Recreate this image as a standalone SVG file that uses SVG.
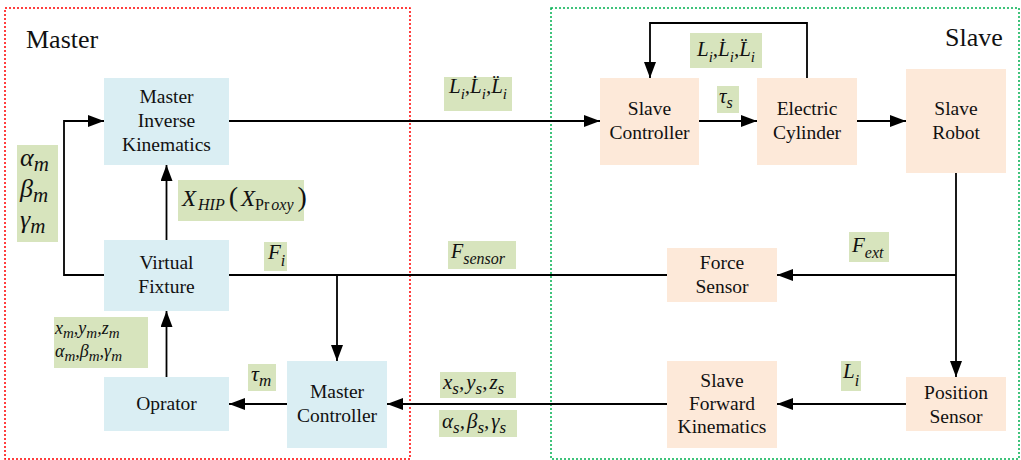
<svg xmlns="http://www.w3.org/2000/svg" width="1021" height="460" viewBox="0 0 1021 460">
<style>
.nb{fill:#DAEEF3}
.ns{fill:#FDE9D9}
.lb{fill:#D7E4BD}
.t{font-family:'Liberation Serif','Times New Roman',Times,'DejaVu Serif',serif;font-size:19.5px;fill:#111;text-anchor:middle}
.ti{font-family:'Liberation Serif','Times New Roman',Times,'DejaVu Serif',serif;font-size:26px;fill:#111}
.m{font-family:'Liberation Serif','Times New Roman',Times,'DejaVu Serif',serif;font-style:italic;fill:#111}
.c{fill:none;stroke:#000;stroke-width:1.8}
</style>
<defs>
<marker id="ah" viewBox="0 0 16 12" refX="16" refY="6" markerWidth="16" markerHeight="12" markerUnits="userSpaceOnUse" orient="auto">
<path d="M0,0 L16,6 L0,12 Z" fill="#000"/>
</marker>
</defs>
<rect width="1021" height="460" fill="#fff"/>
<g id="regions">
<rect x="5" y="8" width="405" height="451" fill="none" stroke="#FF0000" stroke-width="1.5" stroke-dasharray="2,2"/>
<rect x="551" y="8" width="468" height="451" fill="none" stroke="#00B050" stroke-width="1.5" stroke-dasharray="2,2"/>
<text class="ti" x="26" y="48">Master</text>
<text class="ti" x="945" y="46">Slave</text>
</g>
<g id="connectors">
<path class="c" d="M229,121 H600" marker-end="url(#ah)"/>
<path class="c" d="M699,121 H757" marker-end="url(#ah)"/>
<path class="c" d="M857,121 H906" marker-end="url(#ah)"/>
<path class="c" d="M807,78 V23 H650 V78" marker-end="url(#ah)"/>
<path class="c" d="M956,173 V377" marker-end="url(#ah)"/>
<path class="c" d="M956,275 H777" marker-end="url(#ah)"/>
<path class="c" d="M667,275 H229"/>
<path class="c" d="M337,275 V361" marker-end="url(#ah)"/>
<path class="c" d="M104,275 H64 V121 H104" marker-end="url(#ah)"/>
<path class="c" d="M166.5,240 V165" marker-end="url(#ah)"/>
<path class="c" d="M166.5,377 V311" marker-end="url(#ah)"/>
<path class="c" d="M287,404 H229" marker-end="url(#ah)"/>
<path class="c" d="M667,404 H387" marker-end="url(#ah)"/>
<path class="c" d="M906,404 H777" marker-end="url(#ah)"/>
</g>
<g id="master-inverse-kinematics">
<rect class="nb" x="104" y="78" width="125" height="87"/>
<text class="t" x="166.5" y="103">Master</text>
<text class="t" x="166.5" y="127">Inverse</text>
<text class="t" x="166.5" y="151">Kinematics</text>
</g>
<g id="virtual-fixture">
<rect class="nb" x="104" y="240" width="125" height="71"/>
<text class="t" x="166.5" y="269">Virtual</text>
<text class="t" x="166.5" y="293">Fixture</text>
</g>
<g id="oprator">
<rect class="nb" x="104" y="377" width="125" height="54"/>
<text class="t" x="166.5" y="410">Oprator</text>
</g>
<g id="master-controller">
<rect class="nb" x="287" y="361" width="100" height="87"/>
<text class="t" x="337" y="398">Master</text>
<text class="t" x="337" y="422">Controller</text>
</g>
<g id="slave-controller">
<rect class="ns" x="600" y="78" width="99" height="87"/>
<text class="t" x="649.5" y="115">Slave</text>
<text class="t" x="649.5" y="139">Controller</text>
</g>
<g id="electric-cylinder">
<rect class="ns" x="757" y="78" width="100" height="87"/>
<text class="t" x="807" y="115">Electric</text>
<text class="t" x="807" y="139">Cylinder</text>
</g>
<g id="slave-robot">
<rect class="ns" x="906" y="69" width="100" height="104"/>
<text class="t" x="956" y="115">Slave</text>
<text class="t" x="956" y="139">Robot</text>
</g>
<g id="force-sensor">
<rect class="ns" x="667" y="248" width="110" height="54"/>
<text class="t" x="722" y="269">Force</text>
<text class="t" x="722" y="293">Sensor</text>
</g>
<g id="slave-forward-kinematics">
<rect class="ns" x="667" y="361" width="110" height="87"/>
<text class="t" x="722" y="387">Slave</text>
<text class="t" x="722" y="410">Forward</text>
<text class="t" x="722" y="433">Kinematics</text>
</g>
<g id="position-sensor">
<rect class="ns" x="906" y="377" width="100" height="54"/>
<text class="t" x="956" y="399">Position</text>
<text class="t" x="956" y="423">Sensor</text>
</g>
<g id="labels">
<rect class="lb" x="17" y="145" width="41" height="97"/>
<text class="m" x="20" y="166" font-size="26">α<tspan font-size="21" dy="5">m</tspan></text>
<text class="m" x="20" y="197" font-size="26">β<tspan font-size="21" dy="5">m</tspan></text>
<text class="m" x="20" y="228" font-size="26">γ<tspan font-size="21" dy="5">m</tspan></text>

<rect class="lb" x="178" y="180" width="126" height="41"/>
<text class="m" x="182" y="206" font-size="23">X<tspan font-size="16" dy="4" dx="2">HIP</tspan><tspan font-size="28" font-style="normal" dy="-4" dx="4">(</tspan><tspan dx="3">X</tspan><tspan font-size="16" dy="4" font-style="normal">Pr</tspan><tspan font-size="16" dx="2">oxy</tspan><tspan font-size="28" font-style="normal" dy="-4" dx="4">)</tspan></text>

<rect class="lb" x="264" y="242" width="23" height="29"/>
<text class="m" x="268" y="259" font-size="21">F<tspan font-size="16" dy="7">i</tspan></text>

<rect class="lb" x="54" y="317" width="94" height="51"/>
<text class="m" x="55" y="334" font-size="18">x<tspan font-size="15" dy="4">m</tspan><tspan dy="-4">,</tspan>y<tspan font-size="15" dy="4">m</tspan><tspan dy="-4">,</tspan>z<tspan font-size="15" dy="4">m</tspan></text>
<text class="m" x="55" y="357" font-size="18">α<tspan font-size="15" dy="4">m</tspan><tspan dy="-4">,</tspan>β<tspan font-size="15" dy="4">m</tspan><tspan dy="-4">,</tspan>γ<tspan font-size="15" dy="4">m</tspan></text>

<rect class="lb" x="248" y="364" width="28" height="27"/>
<text class="m" x="251" y="381" font-size="22">τ<tspan font-size="17" dy="5">m</tspan></text>

<rect class="lb" x="444" y="77" width="68" height="34"/>
<text class="m" x="478" y="93" font-size="21" text-anchor="middle">L<tspan font-size="15" dy="6">i</tspan><tspan dy="-6">,</tspan>L̇<tspan font-size="15" dy="6">i</tspan><tspan dy="-6">,</tspan>L̈<tspan font-size="15" dy="6">i</tspan></text>

<rect class="lb" x="690" y="33" width="72" height="35"/>
<text class="m" x="726" y="56" font-size="21" text-anchor="middle">L<tspan font-size="15" dy="6">i</tspan><tspan dy="-6">,</tspan>L̇<tspan font-size="15" dy="6">i</tspan><tspan dy="-6">,</tspan>L̈<tspan font-size="15" dy="6">i</tspan></text>

<rect class="lb" x="717" y="86" width="22" height="27"/>
<text class="m" x="719" y="103" font-size="21">τ<tspan font-size="16" dy="5">s</tspan></text>

<rect class="lb" x="448" y="241" width="68" height="28"/>
<text class="m" x="451" y="258" font-size="20">F<tspan font-size="16" dy="6">sensor</tspan></text>

<rect class="lb" x="440" y="372" width="76" height="26"/>
<text class="m" x="443" y="389" font-size="21">x<tspan font-size="17" dy="5">s</tspan><tspan dy="-5">,</tspan><tspan dx="2">y</tspan><tspan font-size="17" dy="5">s</tspan><tspan dy="-5">,</tspan><tspan dx="2">z</tspan><tspan font-size="17" dy="5">s</tspan></text>

<rect class="lb" x="439" y="410" width="78" height="27"/>
<text class="m" x="442" y="428" font-size="21">α<tspan font-size="17" dy="5">s</tspan><tspan dy="-5">,</tspan><tspan dx="2">β</tspan><tspan font-size="17" dy="5">s</tspan><tspan dy="-5">,</tspan><tspan dx="2">γ</tspan><tspan font-size="17" dy="5">s</tspan></text>

<rect class="lb" x="849" y="232" width="40" height="30"/>
<text class="m" x="852" y="252" font-size="21">F<tspan font-size="16" dy="6">ext</tspan></text>

<rect class="lb" x="841" y="361" width="20" height="30"/>
<text class="m" x="843" y="378" font-size="21">L<tspan font-size="16" dy="8">i</tspan></text>
</g>
</svg>
